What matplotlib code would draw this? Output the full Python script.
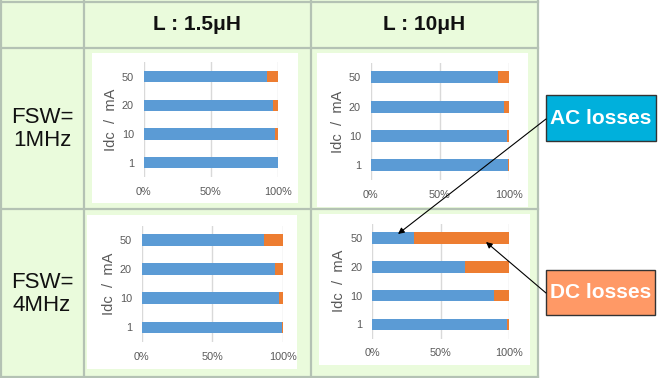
import matplotlib
matplotlib.use("Agg")
import matplotlib.pyplot as plt
from matplotlib.patches import Rectangle

# ---------------- data ----------------
categories = ['1', '10', '20', '50']
col_titles = ['L : 1.5μH', 'L : 10μH']
row_titles = ['FSW=\n1MHz', 'FSW=\n4MHz']
x_ticks = [0, 50, 100]
x_ticklabels = ['0%', '50%', '100%']

ac_1mhz_1p5uh = [99.8, 98.0, 96.5, 92.0]
dc_1mhz_1p5uh = [0.2, 2.0, 3.5, 8.0]
ac_1mhz_10uh = [99.8, 98.5, 96.6, 92.0]
dc_1mhz_10uh = [0.2, 1.5, 3.4, 8.0]
ac_4mhz_1p5uh = [99.7, 97.2, 94.6, 87.0]
dc_4mhz_1p5uh = [0.3, 2.8, 5.4, 13.0]
ac_4mhz_10uh = [98.5, 89.0, 67.9, 30.7]
dc_4mhz_10uh = [1.5, 11.0, 32.1, 69.3]

# ---------------- styles ----------------
W, H = 660, 378
BLUE = '#5B9BD5'
ORANGE = '#ED7D31'
GREEN_BG = '#EAFBDC'
BORDER = '#B4C2B4'
TXT = '#595959'
FONT = 'Liberation Sans'

fig = plt.figure(figsize=(W / 100, H / 100), dpi=100)

def px_axes(x0, y0, x1, y1, **kw):
    return fig.add_axes([x0 / W, 1 - y1 / H, (x1 - x0) / W, (y1 - y0) / H], **kw)

# background / table
bg = px_axes(0, 0, W, H)
bg.set_xlim(0, W)
bg.set_ylim(H, 0)
bg.axis('off')
bg.add_patch(Rectangle((0, 0), 538, 377, facecolor=GREEN_BG, edgecolor='none'))
for x in [1, 83.5, 310.5, 538]:
    bg.plot([x, x], [0, 377], color=BORDER, lw=1.6)
for y in [1.5, 48, 209, 376.5]:
    bg.plot([0, 538], [y, y], color=BORDER, lw=1.6)

# white panels
panels = [(92, 53, 298, 203), (317, 53, 528, 207), (87, 215, 297, 369), (319, 214, 530, 365)]
for (x0, y0, x1, y1) in panels:
    bg.add_patch(Rectangle((x0, y0), x1 - x0, y1 - y0, facecolor='white', edgecolor='none'))

# headers
bg.text(197, 25, col_titles[0], ha='center', va='center', fontsize=15,
        fontweight='bold', family=FONT, color='#111111')
bg.text(424.5, 25, col_titles[1], ha='center', va='center', fontsize=15,
        fontweight='bold', family=FONT, color='#111111')
bg.text(42, 129, row_titles[0], ha='center', va='center', fontsize=16,
        family=FONT, color='#111111', linespacing=1.15)
bg.text(42, 294, row_titles[1], ha='center', va='center', fontsize=16,
        family=FONT, color='#111111', linespacing=1.15)

# charts
plot_areas = [(143.7, 62.3, 278, 177), (370.7, 62.7, 508.7, 180),
              (141.7, 225.5, 282.7, 341.9), (372.3, 223.6, 509.3, 338.7)]
series = [(ac_1mhz_1p5uh, dc_1mhz_1p5uh), (ac_1mhz_10uh, dc_1mhz_10uh),
          (ac_4mhz_1p5uh, dc_4mhz_1p5uh), (ac_4mhz_10uh, dc_4mhz_10uh)]

for (x0, y0, x1, y1), (ac, dc) in zip(plot_areas, series):
    ax = px_axes(x0, y0, x1, y1)
    ax.set_facecolor('none')
    pos = list(range(len(categories)))
    ax.barh(pos, ac, height=0.4, color=BLUE, zorder=3)
    ax.barh(pos, dc, left=ac, height=0.4, color=ORANGE, zorder=3)
    ax.set_xlim(0, 100)
    ax.set_ylim(-0.5, len(categories) - 0.5)
    ax.set_xticks(x_ticks)
    ax.set_xticklabels(x_ticklabels)
    ax.set_yticks(pos)
    ax.set_yticklabels(categories)
    ax.grid(axis='x', color='#D9D9D9', lw=1.0, zorder=0)
    for s in ax.spines.values():
        s.set_visible(False)
    ax.tick_params(length=0, labelsize=7.8, labelcolor=TXT, pad=7)
    for lab in ax.get_xticklabels() + ax.get_yticklabels():
        lab.set_family(FONT)
    ax.set_ylabel('Idc  /  mA', fontsize=10.5, color=TXT, family=FONT, labelpad=3)

# overlay for callouts
ov = px_axes(0, 0, W, H)
ov.set_xlim(0, W)
ov.set_ylim(H, 0)
ov.axis('off')
ov.patch.set_visible(False)

ov.add_patch(Rectangle((546, 95), 110, 46, facecolor='#00B0DC', edgecolor='#333333', lw=1.0))
ov.text(601, 118, 'AC losses', ha='center', va='center', fontsize=15,
        fontweight='bold', family=FONT, color='white')
ov.add_patch(Rectangle((546, 270), 109, 45, facecolor='#FF9966', edgecolor='#333333', lw=1.0))
ov.text(600.5, 293, 'DC losses', ha='center', va='center', fontsize=15,
        fontweight='bold', family=FONT, color='white')

ov.annotate('', xy=(398, 234), xytext=(546, 119),
            arrowprops=dict(arrowstyle='-|>', color='black', lw=0.8,
                            mutation_scale=9, shrinkA=0, shrinkB=0))
ov.annotate('', xy=(486, 242), xytext=(546, 293),
            arrowprops=dict(arrowstyle='-|>', color='black', lw=0.8,
                            mutation_scale=9, shrinkA=0, shrinkB=0))

fig.savefig('out.png', dpi=100)
